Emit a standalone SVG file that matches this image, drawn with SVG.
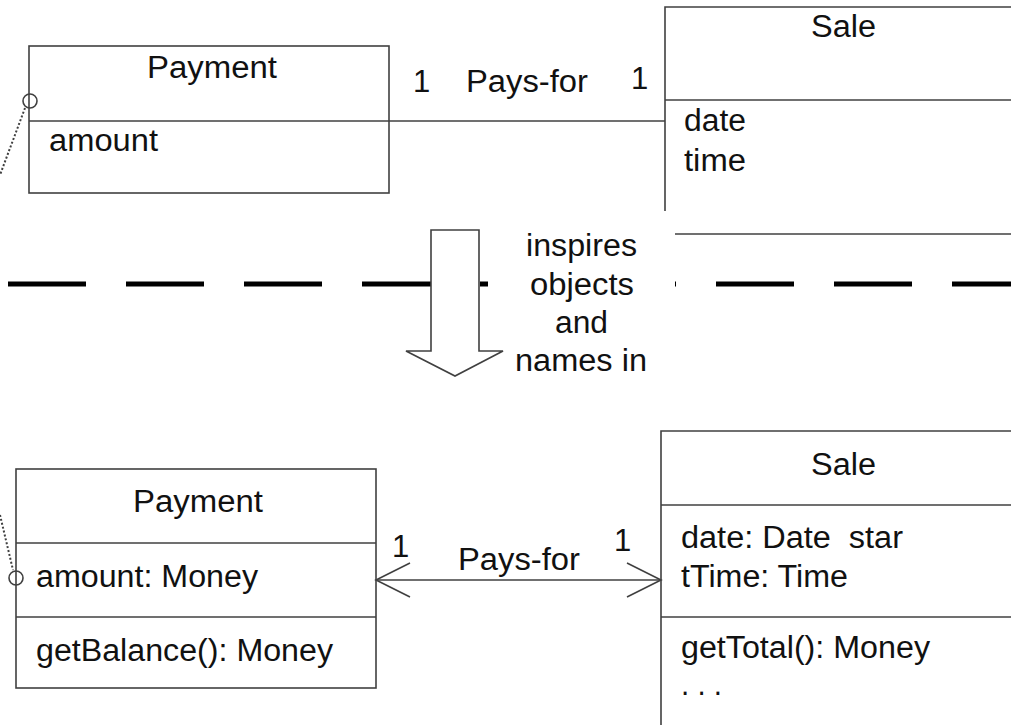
<svg xmlns="http://www.w3.org/2000/svg" width="1011" height="725" viewBox="0 0 1011 725">
<defs>
<style>
text{font-family:"Liberation Sans",Arial,sans-serif;font-size:31px;fill:#111}
.box{fill:#fff;stroke:#404040;stroke-width:1.6}
.ln{stroke:#404040;stroke-width:1.6;fill:none}
.dot{stroke:#404040;stroke-width:2;fill:none;stroke-dasharray:2 2}
.c{text-anchor:middle}
</style>
</defs>
<g id="dashline"><line x1="8" y1="284" x2="1011" y2="284" stroke="#000" stroke-width="5" stroke-dasharray="78 40"/></g>
<g id="payment-top">
<rect class="box" x="29" y="46" width="360" height="147"/>
<line class="ln" x1="29" y1="121" x2="389" y2="121"/>
<text x="147" y="78" textLength="130" lengthAdjust="spacingAndGlyphs">Payment</text>
<text x="49" y="151" textLength="109" lengthAdjust="spacingAndGlyphs">amount</text>
</g>
<g id="sale-top">
<polyline class="ln" points="665,211 665,7 1011,7"/>
<line class="ln" x1="665" y1="100" x2="1011" y2="100"/>
<line class="ln" x1="675" y1="234" x2="1011" y2="234"/>
<text x="811" y="37" textLength="65" lengthAdjust="spacingAndGlyphs">Sale</text>
<text x="684" y="131" textLength="62" lengthAdjust="spacingAndGlyphs">date</text>
<text x="684" y="171" textLength="62" lengthAdjust="spacingAndGlyphs">time</text>
</g>
<g id="note">
<rect x="488" y="240" width="187" height="140" fill="#fff"/>
<text x="526" y="256" textLength="111" lengthAdjust="spacingAndGlyphs">inspires</text>
<text x="530" y="295" textLength="104" lengthAdjust="spacingAndGlyphs">objects</text>
<text x="555" y="333" textLength="53" lengthAdjust="spacingAndGlyphs">and</text>
<text x="515" y="371" textLength="132" lengthAdjust="spacingAndGlyphs">names in</text>
</g>
<g id="bigarrow"><polygon class="box" points="431,230 479,230 479,351 503,351 455,376 406,351 431,351"/></g>
<g id="payment-bottom">
<rect class="box" x="16" y="469" width="360" height="219"/>
<line class="ln" x1="16" y1="543" x2="376" y2="543"/>
<line class="ln" x1="16" y1="617" x2="376" y2="617"/>
<text x="133" y="512" textLength="130" lengthAdjust="spacingAndGlyphs">Payment</text>
<text x="36" y="587" textLength="222" lengthAdjust="spacingAndGlyphs">amount: Money</text>
<text x="36" y="661" textLength="297" lengthAdjust="spacingAndGlyphs">getBalance(): Money</text>
</g>
<g id="sale-bottom">
<polyline class="ln" points="661,725 661,431 1011,431"/>
<line class="ln" x1="661" y1="505" x2="1011" y2="505"/>
<line class="ln" x1="661" y1="617" x2="1011" y2="617"/>
<text x="811" y="475" textLength="65" lengthAdjust="spacingAndGlyphs">Sale</text>
<text x="681" y="548" textLength="222" lengthAdjust="spacingAndGlyphs" xml:space="preserve">date: Date  star</text>
<text x="681" y="587" textLength="167" lengthAdjust="spacingAndGlyphs">tTime: Time</text>
<text x="681" y="658" textLength="249" lengthAdjust="spacingAndGlyphs">getTotal(): Money</text>
<text x="681" y="695" textLength="41" lengthAdjust="spacingAndGlyphs">. . .</text>
</g>
<g id="connectors">
<line class="ln" x1="389" y1="121" x2="665" y2="121"/>
<text x="413" y="92">1</text>
<text x="466" y="92" textLength="122" lengthAdjust="spacingAndGlyphs">Pays-for</text>
<text x="631" y="89">1</text>
<line class="ln" x1="376" y1="580" x2="661" y2="580"/>
<polyline class="ln" points="410,563 376,580 410,597"/>
<polyline class="ln" points="627,563 661,580 627,597"/>
<text x="392" y="557">1</text>
<text x="458" y="570" textLength="122" lengthAdjust="spacingAndGlyphs">Pays-for</text>
<text x="614" y="551">1</text>
<line class="dot" x1="25" y1="108" x2="0" y2="175"/>
<circle cx="30" cy="101" r="7" fill="none" stroke="#404040" stroke-width="1.6"/>
<line class="dot" x1="0" y1="515" x2="13" y2="570"/>
<circle cx="16" cy="578" r="7" fill="none" stroke="#404040" stroke-width="1.6"/>
</g>
</svg>
